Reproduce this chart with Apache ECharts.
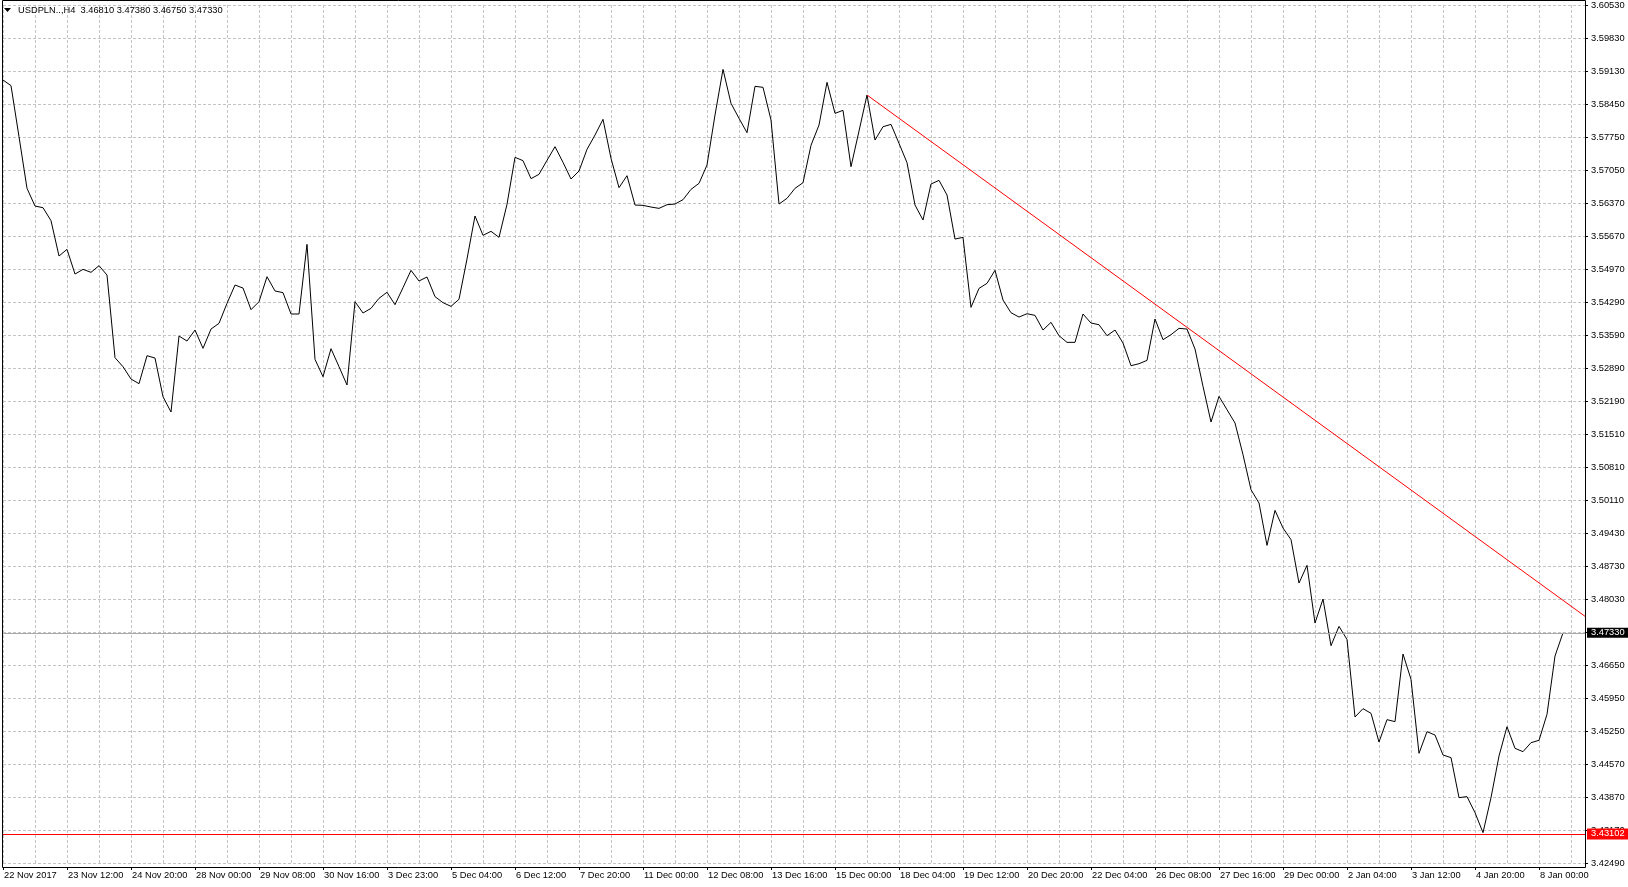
<!DOCTYPE html>
<html>
<head>
<meta charset="utf-8">
<script src="https://cdn.jsdelivr.net/npm/echarts@6/dist/echarts.min.js"></script>
<style>
html,body{margin:0;padding:0;background:#fff;}
#chart{width:1628px;height:887px;}
</style>
</head>
<body>
<div id="chart"></div>
<script>
// ---- data ----
const HEADER = 'USDPLN..,H4  3.46810 3.47380 3.46750 3.47330';

// time-axis labels, one every 8 H4 bars
const X_LABELS = ['22 Nov 2017','23 Nov 12:00','24 Nov 20:00','28 Nov 00:00','29 Nov 08:00','30 Nov 16:00',
  '3 Dec 23:00','5 Dec 04:00','6 Dec 12:00','7 Dec 20:00','11 Dec 00:00','12 Dec 08:00','13 Dec 16:00',
  '15 Dec 00:00','18 Dec 04:00','19 Dec 12:00','20 Dec 20:00','22 Dec 04:00','26 Dec 08:00','27 Dec 16:00',
  '29 Dec 00:00','2 Jan 04:00','3 Jan 12:00','4 Jan 20:00','8 Jan 00:00'];

// price-axis labels, top to bottom
const Y_LABELS = ['3.60530','3.59830','3.59130','3.58450','3.57750','3.57050','3.56370','3.55670','3.54970',
  '3.54290','3.53590','3.52890','3.52190','3.51510','3.50810','3.50110','3.49430','3.48730','3.48030',
  '3.47330','3.46650','3.45950','3.45250','3.44570','3.43870','3.43170','3.42490'];
const Y_MIN = 3.42490;
const Y_MAX = 3.60530;

// H4 closing prices
const CLOSES = [
  3.58953,3.58834,3.57761,3.56675,3.56303,3.56268,3.55995,3.55252,3.55392,3.54873,
  3.54972,3.54909,3.55049,3.54852,3.53114,3.52925,3.52666,3.52568,3.53156,3.53107,
  3.52294,3.51972,3.53570,3.53465,3.53696,3.53311,3.53717,3.53836,3.54257,3.54642,
  3.54579,3.54124,3.54292,3.54817,3.54517,3.54482,3.54033,3.54033,3.55498,3.53080,
  3.52715,3.53304,3.52926,3.52540,3.54292,3.54054,3.54152,3.54363,3.54489,3.54229,
  3.54587,3.54951,3.54727,3.54811,3.54398,3.54271,3.54194,3.54342,3.55190,3.56094,
  3.55687,3.55771,3.55645,3.56339,3.57327,3.57257,3.56879,3.56970,3.57264,3.57551,
  3.57222,3.56871,3.57039,3.57495,3.57796,3.58126,3.57306,3.56689,3.56941,3.56324,
  3.56317,3.56282,3.56254,3.56331,3.56345,3.56437,3.56654,3.56780,3.57165,3.58217,
  3.59177,3.58462,3.58147,3.57845,3.58820,3.58799,3.58112,3.56345,3.56465,3.56675,
  3.56794,3.57580,3.58006,3.58904,3.58252,3.58315,3.57130,3.57880,3.58637,3.57691,
  3.57971,3.58020,3.57621,3.57214,3.56324,3.56009,3.56766,3.56843,3.56535,3.55609,
  3.55644,3.54173,3.54572,3.54677,3.54951,3.54327,3.54060,3.53969,3.54039,3.54004,
  3.53696,3.53857,3.53577,3.53437,3.53437,3.54033,3.53843,3.53808,3.53577,3.53696,
  3.53423,3.52946,3.52988,3.53058,3.53928,3.53493,3.53598,3.53731,3.53717,3.53297,
  3.52512,3.51762,3.52301,3.52021,3.51741,3.51075,3.50339,3.50059,3.49168,3.49904,
  3.49533,3.49288,3.48376,3.48748,3.47535,3.48040,3.47059,3.47465,3.47190,3.45560,
  3.45735,3.45637,3.45034,3.45504,3.45462,3.46884,3.46352,3.44796,3.45251,3.45181,
  3.44761,3.44705,3.43864,3.43885,3.43548,3.43128,3.43864,3.44740,3.45356,3.44901,
  3.44831,3.45020,3.45069,3.45616,3.46842,3.47330
];

const X_MAX = 197.75;            // bar index at the right edge of the plot
const BARS_PER_LABEL = 8;
const BID = 3.47330;              // current price line
const HLINE = 3.43102;            // red horizontal line
const TREND = [[108, 3.58637], [197.75, 3.47677]]; // red trend line anchors

// ---- chart ----
const FONT = '"Liberation Sans", Arial, sans-serif';
const FS = 9.3;
const GRID_STYLE = { color: '#c4c4c4', type: [3, 2], width: 1 };

const chart = echarts.init(document.getElementById('chart'));
chart.setOption({
  animation: false,
  backgroundColor: '#ffffff',
  textStyle: { fontFamily: FONT },
  grid: { left: 3, right: 43, top: 5, bottom: 24, containLabel: false },
  xAxis: {
    type: 'value', min: 0, max: X_MAX, interval: BARS_PER_LABEL,
    offset: 4,
    axisLine: { show: false },
    axisTick: { show: true, length: 3, lineStyle: { color: '#000' } },
    axisLabel: {
      show: true, align: 'left', margin: 4, fontSize: FS, color: '#000', fontFamily: FONT,
      padding: [0, 0, 0, 1],
      showMaxLabel: false, hideOverlap: false,
      formatter: v => (v % BARS_PER_LABEL === 0 && X_LABELS[v / BARS_PER_LABEL] !== undefined) ? X_LABELS[v / BARS_PER_LABEL] : ''
    },
    splitLine: { show: true, lineStyle: GRID_STYLE },
    minorTick: { show: false, splitNumber: 2 },
    minorSplitLine: { show: true, lineStyle: GRID_STYLE }
  },
  yAxis: [
    { type: 'value', min: Y_MIN, max: Y_MAX, show: false, splitLine: { show: false } },
    {
      type: 'category', position: 'right', boundaryGap: false,
      data: Y_LABELS.slice().reverse(),
      axisLine: { show: false },
      axisTick: { show: true, length: 3, interval: 0, lineStyle: { color: '#000' } },
      axisLabel: { show: true, interval: 0, align: 'left', margin: 6, fontSize: FS, color: '#000', fontFamily: FONT },
      splitLine: { show: true, interval: 0, lineStyle: GRID_STYLE }
    }
  ],
  series: [
    {
      type: 'line', yAxisIndex: 0, clip: false,
      data: CLOSES.map((v, i) => [i, v]),
      showSymbol: false, symbol: 'none',
      lineStyle: { color: '#000', width: 1 },
      z: 3,
      markLine: {
        silent: true, symbol: ['none', 'none'], animation: false, precision: 5,
        data: [
          {
            yAxis: BID,
            lineStyle: { color: '#a8a8a8', type: 'solid', width: 1 },
            label: { show: true, position: 'end', distance: 2, formatter: () => BID.toFixed(5),
              color: '#fff', backgroundColor: '#000', fontSize: FS, fontFamily: FONT,
              padding: [1, 4, 0, 4], lineHeight: 9 }
          },
          {
            yAxis: HLINE,
            lineStyle: { color: '#ff0000', type: 'solid', width: 1 },
            label: { show: true, position: 'end', distance: 2, formatter: () => HLINE.toFixed(5),
              color: '#fff', backgroundColor: '#ff0000', fontSize: FS, fontFamily: FONT,
              padding: [1, 4, 1, 4], lineHeight: 9 }
          }
        ]
      }
    },
    {
      type: 'line', yAxisIndex: 0, clip: false,
      data: TREND,
      showSymbol: false, symbol: 'none',
      lineStyle: { color: '#ff0000', width: 1 },
      z: 4
    }
  ],
  graphic: [
    { type: 'rect', silent: true, z: 100,
      shape: { x: 2.5, y: 0.5, width: 1583, height: 867 },
      style: { fill: 'none', stroke: '#000', lineWidth: 1 } },
    { type: 'polygon', silent: true, z: 100,
      shape: { points: [[4, 8], [11, 8], [7.5, 12]] },
      style: { fill: '#000' } },
    { type: 'text', silent: true, z: 100, x: 18, y: 10,
      style: { text: HEADER, fill: '#000', font: FS + 'px ' + FONT, verticalAlign: 'middle', align: 'left' } }
  ]
});
</script>
</body>
</html>
